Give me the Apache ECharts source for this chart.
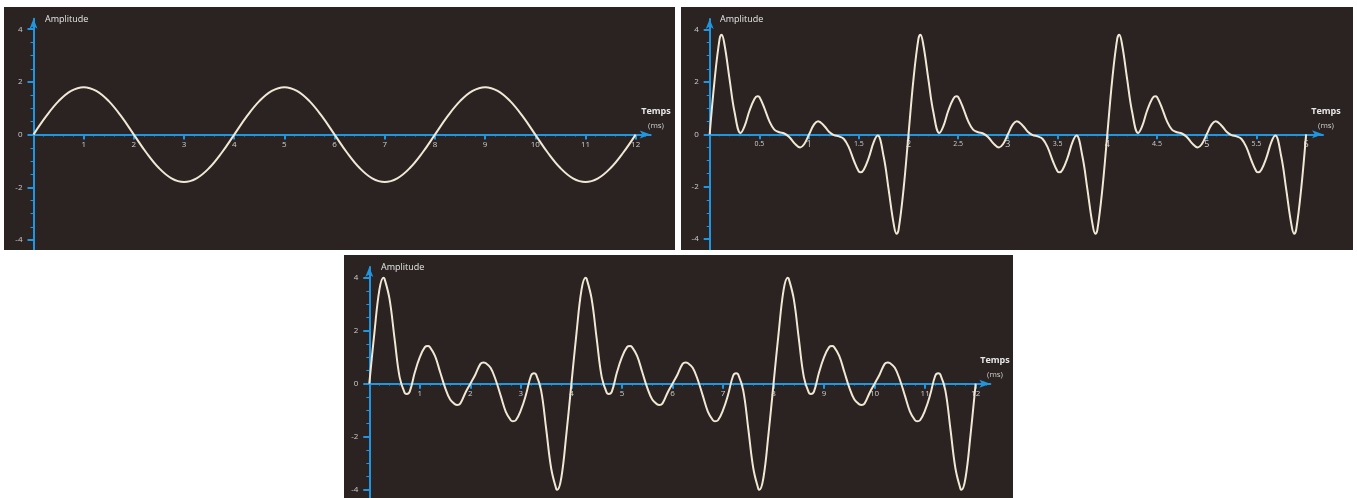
<!DOCTYPE html>
<html><head><meta charset="utf-8">
<script src="https://cdn.jsdelivr.net/npm/echarts@6/dist/echarts.min.js"></script>
<style>
html,body{margin:0;padding:0;background:#ffffff;width:1357px;height:498px;overflow:hidden;}
.panel{position:absolute;background:#2a2321;}
</style></head><body>
<div id="p1" class="panel" style="left:4px;top:7px;width:671px;height:243px"></div>
<div id="p2" class="panel" style="left:681px;top:7px;width:672px;height:243px"></div>
<div id="p3" class="panel" style="left:344px;top:255px;width:669px;height:243px"></div>
<script>
// ---------- data ----------
// Panel 1: pure sine (time ms, amplitude)
const sineData = [[0,0],[0.25,0.69],[0.5,1.27],[0.75,1.66],[1,1.8],[1.25,1.66],[1.5,1.27],[1.75,0.69],[2,0],[2.25,-0.69],[2.5,-1.27],[2.75,-1.66],[3,-1.8],[3.25,-1.66],[3.5,-1.27],[3.75,-0.69],[4,0],[4.25,0.69],[4.5,1.27],[4.75,1.66],[5,1.8],[5.25,1.66],[5.5,1.27],[5.75,0.69],[6,0],[6.25,-0.69],[6.5,-1.27],[6.75,-1.66],[7,-1.8],[7.25,-1.66],[7.5,-1.27],[7.75,-0.69],[8,0],[8.25,0.69],[8.5,1.27],[8.75,1.66],[9,1.8],[9.25,1.66],[9.5,1.27],[9.75,0.69],[10,0],[10.25,-0.69],[10.5,-1.27],[10.75,-1.66],[11,-1.8],[11.25,-1.66],[11.5,-1.27],[11.75,-0.69],[12,0]];

// Panel 2: periodic complex signal (period 2 ms), 0..6 ms
const complexShortData = [[0,0],[0.05,2.1],[0.1,3.65],[0.12,3.8],[0.15,3.4],[0.2,2.1],[0.25,0.85],[0.31,0.05],[0.35,0.3],[0.4,0.9],[0.45,1.35],[0.48,1.45],[0.5,1.42],[0.55,1.0],[0.6,0.5],[0.65,0.18],[0.7,0.08],[0.75,0.03],[0.8,-0.1],[0.85,-0.33],[0.91,-0.5],[0.95,-0.38],[1,0],[1.05,0.38],[1.09,0.5],[1.15,0.33],[1.2,0.1],[1.25,-0.03],[1.3,-0.08],[1.35,-0.18],[1.4,-0.5],[1.45,-1.0],[1.5,-1.42],[1.52,-1.45],[1.55,-1.35],[1.6,-0.9],[1.65,-0.3],[1.69,-0.05],[1.75,-0.85],[1.8,-2.1],[1.85,-3.4],[1.88,-3.8],[1.9,-3.65],[1.95,-2.1],[2,0],
[2.05,2.1],[2.1,3.65],[2.12,3.8],[2.15,3.4],[2.2,2.1],[2.25,0.85],[2.31,0.05],[2.35,0.3],[2.4,0.9],[2.45,1.35],[2.48,1.45],[2.5,1.42],[2.55,1.0],[2.6,0.5],[2.65,0.18],[2.7,0.08],[2.75,0.03],[2.8,-0.1],[2.85,-0.33],[2.91,-0.5],[2.95,-0.38],[3,0],[3.05,0.38],[3.09,0.5],[3.15,0.33],[3.2,0.1],[3.25,-0.03],[3.3,-0.08],[3.35,-0.18],[3.4,-0.5],[3.45,-1.0],[3.5,-1.42],[3.52,-1.45],[3.55,-1.35],[3.6,-0.9],[3.65,-0.3],[3.69,-0.05],[3.75,-0.85],[3.8,-2.1],[3.85,-3.4],[3.88,-3.8],[3.9,-3.65],[3.95,-2.1],[4,0],
[4.05,2.1],[4.1,3.65],[4.12,3.8],[4.15,3.4],[4.2,2.1],[4.25,0.85],[4.31,0.05],[4.35,0.3],[4.4,0.9],[4.45,1.35],[4.48,1.45],[4.5,1.42],[4.55,1.0],[4.6,0.5],[4.65,0.18],[4.7,0.08],[4.75,0.03],[4.8,-0.1],[4.85,-0.33],[4.91,-0.5],[4.95,-0.38],[5,0],[5.05,0.38],[5.09,0.5],[5.15,0.33],[5.2,0.1],[5.25,-0.03],[5.3,-0.08],[5.35,-0.18],[5.4,-0.5],[5.45,-1.0],[5.5,-1.42],[5.52,-1.45],[5.55,-1.35],[5.6,-0.9],[5.65,-0.3],[5.69,-0.05],[5.75,-0.85],[5.8,-2.1],[5.85,-3.4],[5.88,-3.8],[5.9,-3.65],[5.95,-2.1],[6,0]];

// Panel 3: periodic complex signal (period 4 ms), 0..12 ms
const complexLongData = [[0,0],[0.1,1.9],[0.2,3.55],[0.28,4.0],[0.3,3.97],[0.4,3.2],[0.5,1.7],[0.6,0.25],[0.7,-0.35],[0.74,-0.39],[0.8,-0.3],[0.9,0.42],[1.0,1.0],[1.1,1.38],[1.16,1.42],[1.2,1.38],[1.3,1.05],[1.4,0.45],[1.5,-0.15],[1.6,-0.6],[1.7,-0.78],[1.74,-0.8],[1.8,-0.75],[1.9,-0.35],[2.0,0],[2.1,0.35],[2.2,0.75],[2.26,0.8],[2.3,0.78],[2.4,0.6],[2.5,0.15],[2.6,-0.45],[2.7,-1.05],[2.8,-1.38],[2.84,-1.42],[2.9,-1.38],[3.0,-1.0],[3.1,-0.42],[3.2,0.3],[3.26,0.39],[3.3,0.35],[3.4,-0.25],[3.5,-1.7],[3.6,-3.2],[3.7,-3.97],[3.72,-4.0],[3.8,-3.55],[3.9,-1.9],[4.0,0],
[4.1,1.9],[4.2,3.55],[4.28,4.0],[4.3,3.97],[4.4,3.2],[4.5,1.7],[4.6,0.25],[4.7,-0.35],[4.74,-0.39],[4.8,-0.3],[4.9,0.42],[5.0,1.0],[5.1,1.38],[5.16,1.42],[5.2,1.38],[5.3,1.05],[5.4,0.45],[5.5,-0.15],[5.6,-0.6],[5.7,-0.78],[5.74,-0.8],[5.8,-0.75],[5.9,-0.35],[6.0,0],[6.1,0.35],[6.2,0.75],[6.26,0.8],[6.3,0.78],[6.4,0.6],[6.5,0.15],[6.6,-0.45],[6.7,-1.05],[6.8,-1.38],[6.84,-1.42],[6.9,-1.38],[7.0,-1.0],[7.1,-0.42],[7.2,0.3],[7.26,0.39],[7.3,0.35],[7.4,-0.25],[7.5,-1.7],[7.6,-3.2],[7.7,-3.97],[7.72,-4.0],[7.8,-3.55],[7.9,-1.9],[8.0,0],
[8.1,1.9],[8.2,3.55],[8.28,4.0],[8.3,3.97],[8.4,3.2],[8.5,1.7],[8.6,0.25],[8.7,-0.35],[8.74,-0.39],[8.8,-0.3],[8.9,0.42],[9.0,1.0],[9.1,1.38],[9.16,1.42],[9.2,1.38],[9.3,1.05],[9.4,0.45],[9.5,-0.15],[9.6,-0.6],[9.7,-0.78],[9.74,-0.8],[9.8,-0.75],[9.9,-0.35],[10.0,0],[10.1,0.35],[10.2,0.75],[10.26,0.8],[10.3,0.78],[10.4,0.6],[10.5,0.15],[10.6,-0.45],[10.7,-1.05],[10.8,-1.38],[10.84,-1.42],[10.9,-1.38],[11.0,-1.0],[11.1,-0.42],[11.2,0.3],[11.26,0.39],[11.3,0.35],[11.4,-0.25],[11.5,-1.7],[11.6,-3.2],[11.7,-3.97],[11.72,-4.0],[11.8,-3.55],[11.9,-1.9],[12.0,0]];

// Tick values / labels
const yTickValues = [-4, -2, 0, 2, 4];
const yMinorTickValues = [-3.5, -3, -2.5, -1.5, -1, -0.5, 0.5, 1, 1.5, 2.5, 3, 3.5];
const xTicks12 = [1, 2, 3, 4, 5, 6, 7, 8, 9, 10, 11, 12];
const xTicks6 = [0.5, 1, 1.5, 2, 2.5, 3, 3.5, 4, 4.5, 5, 5.5, 6];
const yAxisName = 'Amplitude';
const xAxisName = 'Temps';
const xAxisUnit = '(ms)';

// ---------- styling ----------
const FONT = '"Open Sans", "Noto Sans", sans-serif';
const AXIS = '#2196e0';
const LABEL = '#cdcdcd';
const TITLE = '#e6e6e6';
const CURVE = '#f0e8d4';

function minorList(max, step, skip) {
  const out = [];
  for (let v = step; v < max + 1e-9; v += step) {
    const r = Math.round(v * 1000) / 1000;
    if (Math.abs(r / skip - Math.round(r / skip)) > 1e-6) out.push(r);
  }
  return out;
}

function buildOption(cfg) {
  const gridTop = cfg.y0 - 4.4 * cfg.unitY;
  const xOffset = -4.4 * cfg.unitY; // lift the x axis from the grid bottom up to y = 0
  const commonX = { type: 'value', min: 0, max: cfg.xMax, position: 'bottom', offset: xOffset, splitLine: { show: false } };
  const commonY = { type: 'value', min: -4.4, max: 4.4, position: 'left', splitLine: { show: false } };
  return {
    animation: false,
    textStyle: { fontFamily: FONT },
    grid: { left: cfg.axisX, top: gridTop, width: cfg.xMax * cfg.unitX, height: 8.8 * cfg.unitY,
            containLabel: false, outerBoundsMode: 'none' },
    xAxis: [
      Object.assign({}, commonX, {
        axisLine: { show: true, onZero: false, symbol: ['none', 'arrow'], symbolSize: [6, 11], lineStyle: { color: AXIS, width: 2 } },
        axisTick: { show: true, customValues: cfg.xTicks, length: 5, lineStyle: { color: AXIS, width: 2 } },
        axisLabel: { show: true, customValues: cfg.xTicks, margin: 6, color: LABEL, fontSize: 8, fontFamily: FONT,
          formatter: cfg.xFormatter, rich: cfg.xRich }
      }),
      Object.assign({}, commonX, {
        axisLine: { show: false, onZero: false },
        axisTick: { show: true, customValues: cfg.xMinor, length: 2, lineStyle: { color: AXIS, width: 1, opacity: 0.8 } },
        axisLabel: { show: false }
      })
    ],
    yAxis: [
      Object.assign({}, commonY, {
        axisLine: { show: true, onZero: false, symbol: ['none', 'arrow'], symbolSize: [6, 10], lineStyle: { color: AXIS, width: 2 } },
        axisTick: { show: true, customValues: yTickValues, length: 6, lineStyle: { color: AXIS, width: 2 } },
        axisLabel: { show: true, customValues: yTickValues, margin: 11, color: LABEL, fontSize: 8, fontFamily: FONT }
      }),
      Object.assign({}, commonY, {
        axisLine: { show: false, onZero: false },
        axisTick: { show: true, customValues: yMinorTickValues, length: 3, lineStyle: { color: AXIS, width: 1 } },
        axisLabel: { show: false }
      })
    ],
    series: [{
      type: 'line', xAxisIndex: 0, yAxisIndex: 0, data: cfg.data, smooth: 0.4,
      showSymbol: false, symbol: 'none', silent: true,
      lineStyle: { color: CURVE, width: 2 }
    }],
    graphic: [
      { type: 'text', left: cfg.ampX, top: 8, style: { text: yAxisName, fill: TITLE, font: '9px ' + FONT } },
      { type: 'text', x: cfg.tempsX, y: cfg.y0 - 23, style: { text: xAxisName, fill: TITLE, font: 'bold 9px ' + FONT, align: 'center', verticalAlign: 'middle' } },
      { type: 'text', x: cfg.tempsX, y: cfg.y0 - 9, style: { text: xAxisUnit, fill: LABEL, font: '8px ' + FONT, align: 'center', verticalAlign: 'middle' } }
    ]
  };
}

const panels = [
  { id: 'p1', data: sineData, axisX: 29.5, unitX: 50.18, xMax: 12.3, y0: 127.6, unitY: 26.34,
    xTicks: xTicks12, xMinor: minorList(12.2, 0.2, 1), ampX: 41, tempsX: 652 },
  { id: 'p2', data: complexShortData, axisX: 28.7, unitX: 99.4, xMax: 6.17, y0: 127.3, unitY: 26.2,
    xTicks: xTicks6, xMinor: minorList(6.1, 0.1, 0.5), ampX: 39, tempsX: 645,
    xFormatter: function (v) { return (Math.round(v) === v) ? '{b|' + v + '}' : '{s|' + v + '}'; },
    xRich: { b: { fontSize: 9, color: LABEL, fontFamily: FONT }, s: { fontSize: 7, color: LABEL, fontFamily: FONT } } },
  { id: 'p3', data: complexLongData, axisX: 25.3, unitX: 50.53, xMax: 12.29, y0: 128.7, unitY: 26.5,
    xTicks: xTicks12, xMinor: minorList(12.2, 0.2, 1), ampX: 37, tempsX: 651 }
];

panels.forEach(function (cfg) {
  const chart = echarts.init(document.getElementById(cfg.id), null, { renderer: 'canvas' });
  chart.setOption(buildOption(cfg));
});
</script></body></html>
